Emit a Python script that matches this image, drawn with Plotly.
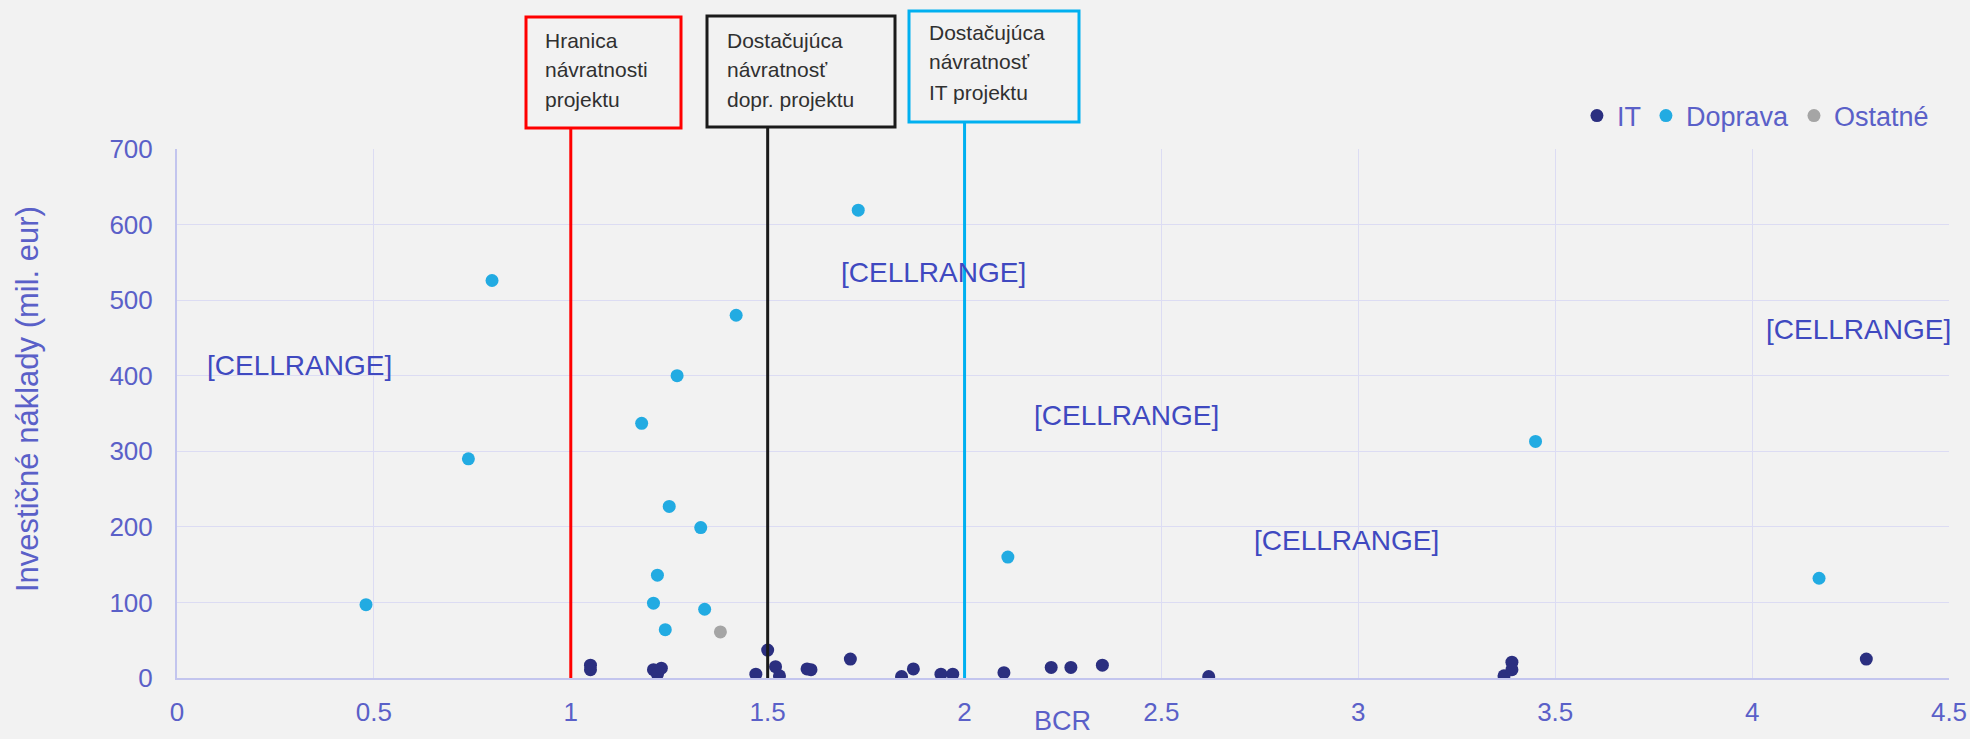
import plotly.graph_objects as go

# --- data: BCR vs investment costs (mil. eur) ---
it_bcr = [1.05, 1.05, 1.21, 1.22, 1.23, 1.47, 1.50, 1.52, 1.53, 1.60, 1.61, 1.71,
          1.84, 1.87, 1.94, 1.97, 2.10, 2.22, 2.27, 2.35, 2.62, 3.37, 3.39, 3.39, 4.29]
it_cost = [17, 11, 11, 5, 13, 5, 37, 15, 3, 12, 11, 25,
           2, 12, 5, 5, 7, 14, 14, 17, 2, 3, 21, 11, 25]

doprava_bcr = [0.48, 0.74, 0.80, 1.18, 1.21, 1.22, 1.24, 1.25, 1.27, 1.33, 1.34, 1.42, 1.73, 2.11, 3.45, 4.17]
doprava_cost = [97, 290, 526, 337, 99, 136, 64, 227, 400, 199, 91, 480, 619, 160, 313, 132]

ostatne_bcr = [1.38]
ostatne_cost = [61]

# threshold lines (BCR) and their captions
thresholds = [1.0, 1.5, 2.0]
threshold_colors = ["#ff0000", "#1a1a1a", "#00b0f0"]
threshold_texts = [
    ["Hranica", "návratnosti", "projektu"],
    ["Dostačujúca", "návratnosť", "dopr. projektu"],
    ["Dostačujúca", "návratnosť", "IT projektu"],
]

# broken Excel data labels
label_x = [0.31, 1.92, 2.41, 2.97, 4.27]
label_y = [413, 536, 348, 182, 461]

IT_COLOR = "#2b2f80"
DOPRAVA_COLOR = "#22abe2"
OSTATNE_COLOR = "#a5a5a5"
AXIS_TEXT = "#5a60c8"
FONT = "Liberation Sans, Arial, sans-serif"

# plot area in pixels
L, R, T, B = 177, 1949, 149, 678
W, H = R - L, B - T


def px_x(p):
    return (p - L) / W


def px_y(p):
    return (B - p) / H


fig = go.Figure()
fig.add_trace(go.Scatter(x=it_bcr, y=it_cost, mode="markers", name="IT",
                         marker=dict(size=13, color=IT_COLOR)))
fig.add_trace(go.Scatter(x=doprava_bcr, y=doprava_cost, mode="markers", name="Doprava",
                         marker=dict(size=13, color=DOPRAVA_COLOR)))
fig.add_trace(go.Scatter(x=ostatne_bcr, y=ostatne_cost, mode="markers", name="Ostatné",
                         marker=dict(size=13, color=OSTATNE_COLOR)))

# caption boxes (pixel boxes: left, right, top, bottom) and text line positions
boxes = [(526, 681, 17, 128), (707, 895, 16, 127), (909, 1079, 11, 122)]
text_left = [543, 725, 927]
text_mid = [[40, 70, 99], [40, 70, 99], [33, 62, 92]]

for t, col, (bx0, bx1, by0, by1), lines, tx, tys in zip(
        thresholds, threshold_colors, boxes, threshold_texts, text_left, text_mid):
    fig.add_shape(type="line", xref="x", yref="paper", x0=t, x1=t, y0=0, y1=px_y(by1),
                  line=dict(color=col, width=3), layer="above")
    fig.add_shape(type="rect", xref="paper", yref="paper",
                  x0=px_x(bx0), x1=px_x(bx1), y0=px_y(by1), y1=px_y(by0),
                  line=dict(color=col, width=3), fillcolor="#f2f2f2")
    for line, ty in zip(lines, tys):
        fig.add_annotation(xref="paper", yref="paper", x=px_x(tx), y=px_y(ty),
                           xanchor="left", yanchor="middle", text=line, showarrow=False,
                           font=dict(family=FONT, size=21, color="#303030"))

for lx, ly in zip(label_x, label_y):
    fig.add_annotation(x=lx, y=ly, text="[CELLRANGE]", showarrow=False,
                       font=dict(family=FONT, size=28, color="#3f49c0"))

# axis titles
fig.add_annotation(xref="paper", yref="paper", x=px_x(1062), y=px_y(721),
                   xanchor="center", yanchor="middle", text="BCR", showarrow=False,
                   font=dict(family=FONT, size=27, color=AXIS_TEXT))
fig.add_annotation(xref="paper", yref="paper", x=px_x(27), y=px_y(399),
                   xanchor="center", yanchor="middle", textangle=-90,
                   text="Investičné náklady (mil. eur)", showarrow=False,
                   font=dict(family=FONT, size=31, color=AXIS_TEXT))

fig.update_xaxes(range=[0, 4.5], dtick=0.5, showgrid=True, gridcolor="#dcdcf3", gridwidth=1,
                 showline=True, linecolor="#c3c5ee", linewidth=2, zeroline=False,
                 ticks="outside", ticklen=10, tickcolor="rgba(0,0,0,0)", automargin=False,
                 tickfont=dict(family=FONT, size=26, color=AXIS_TEXT))
fig.update_yaxes(range=[0, 700], dtick=100, showgrid=True, gridcolor="#dcdcf3", gridwidth=1,
                 showline=True, linecolor="#c3c5ee", linewidth=2, zeroline=False,
                 ticks="outside", ticklen=17, tickcolor="rgba(0,0,0,0)", automargin=False,
                 tickfont=dict(family=FONT, size=26, color=AXIS_TEXT))

fig.update_layout(
    width=1970, height=739,
    margin=dict(l=L, r=1970 - R, t=T, b=739 - B, autoexpand=False),
    paper_bgcolor="#f2f2f2", plot_bgcolor="#f2f2f2",
    font=dict(family=FONT, color=AXIS_TEXT),
    showlegend=True,
    legend=dict(orientation="h", x=0.9915, xanchor="right", y=px_y(116), yanchor="middle",
                font=dict(family=FONT, size=27, color=AXIS_TEXT), bgcolor="rgba(0,0,0,0)",
                itemwidth=30),
)

fig.write_html("out.html", config={"displayModeBar": False},
               post_script="document.body.style.margin='0';document.body.style.background='#f2f2f2';")
